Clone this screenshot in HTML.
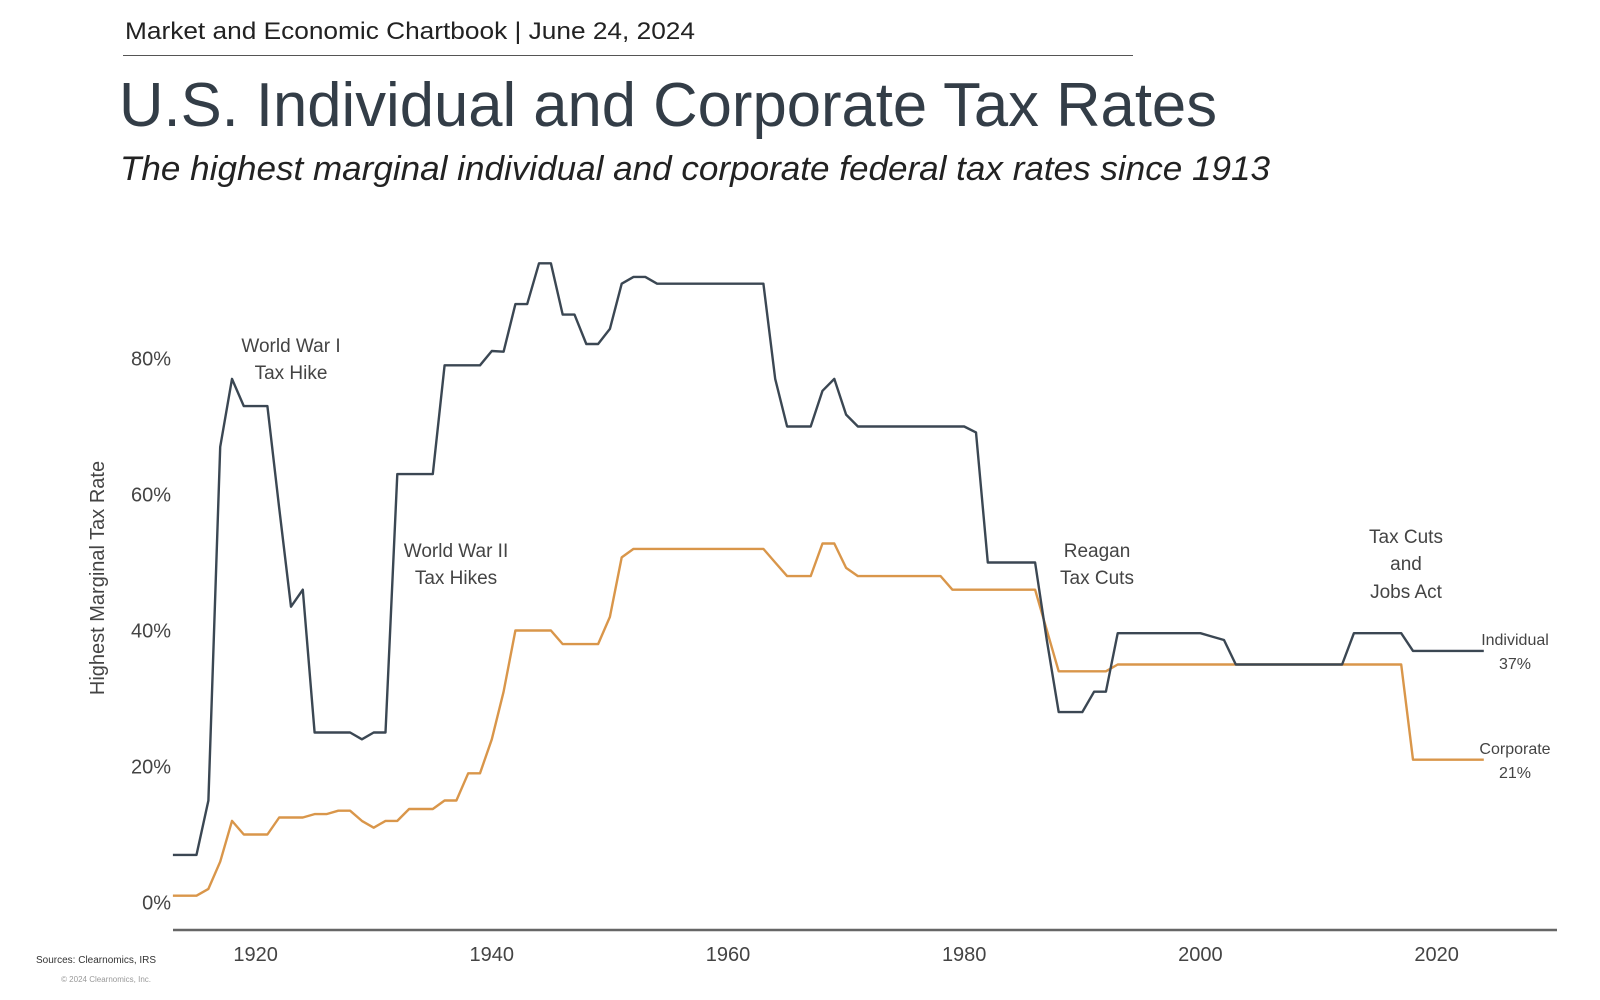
<!DOCTYPE html>
<html><head><meta charset="utf-8"><style>
html,body{margin:0;padding:0;background:#fff;}
svg{display:block;font-family:"Liberation Sans",sans-serif;}
</style></head><body>
<svg width="1600" height="1000" viewBox="0 0 1600 1000">
<text x="125" y="39" font-size="24" fill="#222" textLength="570" lengthAdjust="spacingAndGlyphs">Market and Economic Chartbook | June 24, 2024</text>
<line x1="123" y1="55.5" x2="1133" y2="55.5" stroke="#555" stroke-width="1"/>
<text x="119" y="126" font-size="62" fill="#333d47" textLength="1098" lengthAdjust="spacingAndGlyphs">U.S. Individual and Corporate Tax Rates</text>
<text x="120" y="180" font-size="34" font-style="italic" fill="#222" textLength="1150" lengthAdjust="spacingAndGlyphs">The highest marginal individual and corporate federal tax rates since 1913</text>
<g id="plot"></g>
<text transform="translate(104,578) rotate(-90)" text-anchor="middle" font-size="20" fill="#444">Highest Marginal Tax Rate</text>
<g font-size="19" fill="#444" text-anchor="middle">
<text x="291" y="352"><tspan x="291">World War I</tspan><tspan x="291" dy="27">Tax Hike</tspan></text>
<text x="456" y="557"><tspan x="456">World War II</tspan><tspan x="456" dy="27">Tax Hikes</tspan></text>
<text x="1097" y="557"><tspan x="1097">Reagan</tspan><tspan x="1097" dy="27">Tax Cuts</tspan></text>
<text x="1406" y="543"><tspan x="1406">Tax Cuts</tspan><tspan x="1406" dy="27">and</tspan><tspan x="1406" dy="28">Jobs Act</tspan></text>
</g>
<g font-size="16" fill="#444" text-anchor="middle">
<text x="1515" y="645"><tspan x="1515">Individual</tspan><tspan x="1515" dy="24">37%</tspan></text>
<text x="1515" y="754"><tspan x="1515">Corporate</tspan><tspan x="1515" dy="24">21%</tspan></text>
</g>
<text x="36" y="963" font-size="10" fill="#333">Sources: Clearnomics, IRS</text>
<text x="151" y="982" font-size="8" fill="#999" text-anchor="end">© 2024 Clearnomics, Inc.</text>
</svg>
<script>
const years = [1913,1914,1915,1916,1917,1918,1919,1920,1921,1922,1923,1924,1925,1926,1927,1928,1929,1930,1931,1932,1933,1934,1935,1936,1937,1938,1939,1940,1941,1942,1943,1944,1945,1946,1947,1948,1949,1950,1951,1952,1953,1954,1955,1956,1957,1958,1959,1960,1961,1962,1963,1964,1965,1966,1967,1968,1969,1970,1971,1972,1973,1974,1975,1976,1977,1978,1979,1980,1981,1982,1983,1984,1985,1986,1987,1988,1989,1990,1991,1992,1993,1994,1995,1996,1997,1998,1999,2000,2001,2002,2003,2004,2005,2006,2007,2008,2009,2010,2011,2012,2013,2014,2015,2016,2017,2018,2019,2020,2021,2022,2023,2024];
const individual = [7,7,7,15,67,77,73,73,73,58,43.5,46,25,25,25,25,24,25,25,63,63,63,63,79,79,79,79,81.1,81,88,88,94,94,86.45,86.45,82.13,82.13,84.36,91,92,92,91,91,91,91,91,91,91,91,91,91,77,70,70,70,75.25,77,71.75,70,70,70,70,70,70,70,70,70,70,69.13,50,50,50,50,50,38.5,28,28,28,31,31,39.6,39.6,39.6,39.6,39.6,39.6,39.6,39.6,39.1,38.6,35,35,35,35,35,35,35,35,35,35,39.6,39.6,39.6,39.6,39.6,37,37,37,37,37,37,37];
const corporate = [1,1,1,2,6,12,10,10,10,12.5,12.5,12.5,13,13,13.5,13.5,12,11,12,12,13.75,13.75,13.75,15,15,19,19,24,31,40,40,40,40,38,38,38,38,42,50.75,52,52,52,52,52,52,52,52,52,52,52,52,50,48,48,48,52.8,52.8,49.2,48,48,48,48,48,48,48,48,46,46,46,46,46,46,46,46,40,34,34,34,34,34,35,35,35,35,35,35,35,35,35,35,35,35,35,35,35,35,35,35,35,35,35,35,35,35,35,21,21,21,21,21,21,21];
const yTicks = [0,20,40,60,80];
const xTicks = [1920,1940,1960,1980,2000,2020];
const NS='http://www.w3.org/2000/svg';
const plot=document.getElementById('plot');
const xS=y=>255.6+(y-1920)*11.81;
const yS=v=>902.5-v*6.80;
function mk(t,a){const e=document.createElementNS(NS,t);for(const k in a)e.setAttribute(k,a[k]);plot.appendChild(e);return e;}
const ax=mk('line',{x1:173,y1:930,x2:1557,y2:930,stroke:'#666','stroke-width':2.5});


yTicks.forEach(v=>{const t=mk('text',{x:171,y:yS(v)+7,'font-size':20,fill:'#444','text-anchor':'end'});t.textContent=v+'%';

});
xTicks.forEach(v=>{const t=mk('text',{x:xS(v),y:961,'font-size':20,fill:'#444','text-anchor':'middle'});t.textContent=v;

});
function line(vals,color,name){const d=vals.map((v,i)=>(i?'L':'M')+xS(years[i]).toFixed(1)+','+yS(v).toFixed(1)).join('');
const p=mk('path',{d:d,fill:'none',stroke:color,'stroke-width':2.4,'stroke-linejoin':'round'});

}
line(corporate,'#d9964a','corporate-line');
line(individual,'#3b4753','individual-line');
</script>
</body></html>
